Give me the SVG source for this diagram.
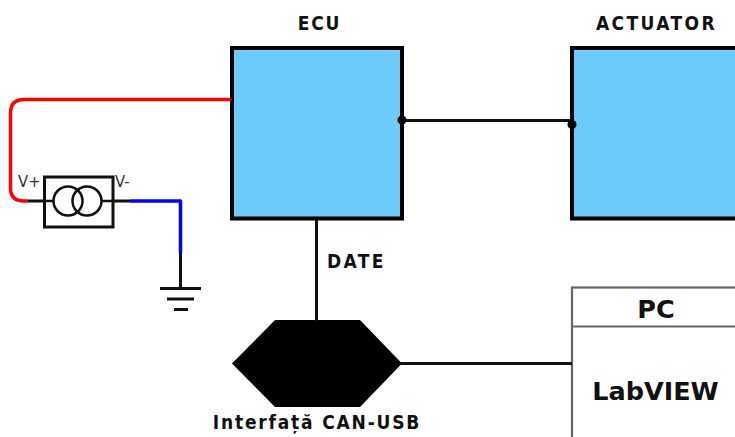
<svg xmlns="http://www.w3.org/2000/svg" width="735" height="437" viewBox="0 0 735 437">
<style>
text{font-family:"DejaVu Sans","Liberation Sans",sans-serif;fill:#111}
.b{font-weight:bold;font-stretch:condensed;letter-spacing:1.800px;font-size:19px}
.wide{letter-spacing:2.400px}
.box{fill:#6dcbfb;stroke:#000;stroke-width:4}
.w{fill:none;stroke-width:3.500;stroke-linejoin:round}
.k{stroke:#111;stroke-width:3;fill:none}
.t{stroke:#111;stroke-width:2.500;fill:none}
.g{stroke:#666;stroke-width:2.200;fill:#fff}
.big{font-size:25.500px;font-weight:bold}
.sm{font-size:16.500px;font-stretch:condensed;fill:#333}
</style>
<g id="ecu">
<rect class="box" x="232" y="48" width="170" height="170.500"/>
<text class="b" x="319.500" y="30" text-anchor="middle">ECU</text>
</g>
<g id="actuator">
<rect class="box" x="572" y="48" width="175" height="170.500"/>
<text class="b wide" x="656.500" y="30" text-anchor="middle">ACTUATOR</text>
</g>
<g id="source">
<rect x="44.500" y="177" width="68.500" height="50" fill="#fff" stroke="#111" stroke-width="3"/>
<path class="t" d="M44 201H54M102 201H113"/>
<circle class="t" cx="68" cy="201" r="14.500"/>
<circle class="t" cx="87" cy="201" r="14.500"/>
<text class="sm" x="18" y="187">V+</text>
<text class="sm" x="115" y="187">V-</text>
</g>
<g id="ground">
<path class="k" d="M160 288.500H201M167 299H194M174 309.500H188"/>
</g>
<g id="date-label"><text class="b wide" x="327" y="268">DATE</text></g>
<g id="interface">
<polygon points="232,363.500 275,320 360,320 402,363.500 360,407 275,407" fill="#000"/>
<text class="b" x="317" y="429" text-anchor="middle">Interfață CAN-USB</text>
</g>
<g id="pc">
<rect class="g" x="572" y="287.500" width="175" height="160"/>
<path class="g" d="M572 326.500H735"/>
<text class="big" x="656" y="318" text-anchor="middle">PC</text>
<text class="big" x="655.500" y="400" text-anchor="middle">LabVIEW</text>
</g>
<g id="connectors">
<path class="w" stroke="#ff0000" d="M231 99.500H24Q10.500 99.500 10.500 113V188Q10.500 201 24 201H28"/>
<path class="w" stroke="#0000ff" d="M130 201H180.500V253"/>
<path class="k" d="M28 201H44M113 201H130"/>
<path class="k" d="M180.500 253V288"/>
<path class="k" d="M402 120.500H572"/>
<path class="k" d="M316.500 220V321"/>
<path class="k" d="M400 363.500H572"/>
<circle cx="402" cy="120" r="4.500" fill="#000"/>
<circle cx="572" cy="124.500" r="4.500" fill="#000"/>
</g>
</svg>
